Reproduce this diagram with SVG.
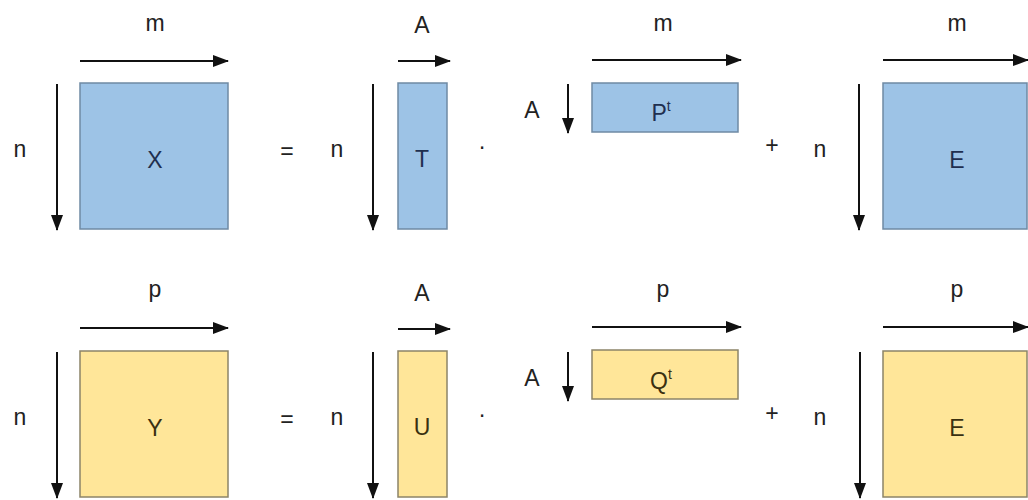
<svg xmlns="http://www.w3.org/2000/svg" width="1028" height="500" viewBox="0 0 1028 500">
<style>
.bl{fill:#9dc3e6;stroke:#6f8aa4;stroke-width:1.5}
.ye{fill:#ffe699;stroke:#8c8468;stroke-width:1.5}
.lab{font-family:"Liberation Sans",Arial,sans-serif;font-size:23px;fill:#222;text-anchor:middle}
.tb{font-family:"Liberation Sans",Arial,sans-serif;font-size:23px;fill:#1f2f4f;text-anchor:middle}
.ty{font-family:"Liberation Sans",Arial,sans-serif;font-size:23px;fill:#3a3010;text-anchor:middle}
.sup{font-size:14px}
.ar{stroke:#111;stroke-width:2;fill:none;marker-end:url(#ah)}
</style>
<defs>
<marker id="ah" markerUnits="userSpaceOnUse" markerWidth="16" markerHeight="12" refX="15" refY="6" orient="auto">
<path d="M0,0 L16,6 L0,12 Z" fill="#111"/>
</marker>
</defs>
<rect width="1028" height="500" fill="#fff"/>

<g id="connectors">
<line class="ar" x1="80" y1="61" x2="228" y2="61"/>
<line class="ar" x1="57" y1="84" x2="57" y2="230"/>
<line class="ar" x1="398" y1="61" x2="450" y2="61"/>
<line class="ar" x1="373" y1="84" x2="373" y2="230"/>
<line class="ar" x1="592" y1="60" x2="741" y2="60"/>
<line class="ar" x1="568" y1="84" x2="568" y2="133"/>
<line class="ar" x1="883" y1="60" x2="1028" y2="60"/>
<line class="ar" x1="859" y1="84" x2="859" y2="230"/>

<line class="ar" x1="80" y1="328" x2="228" y2="328"/>
<line class="ar" x1="57" y1="352" x2="57" y2="498"/>
<line class="ar" x1="398" y1="329" x2="450" y2="329"/>
<line class="ar" x1="373" y1="352" x2="373" y2="498"/>
<line class="ar" x1="592" y1="327" x2="741" y2="327"/>
<line class="ar" x1="568" y1="352" x2="568" y2="401"/>
<line class="ar" x1="883" y1="327" x2="1028" y2="327"/>
<line class="ar" x1="860" y1="352" x2="860" y2="498"/>
</g>

<g id="X">
<rect class="bl" x="80" y="83" width="148" height="146"/>
<text class="tb" x="155" y="168">X</text>
<text class="lab" x="155" y="31">m</text>
<text class="lab" x="20" y="157">n</text>
</g>
<text class="lab" x="287" y="159">=</text>
<g id="T">
<rect class="bl" x="398" y="83" width="49" height="146"/>
<text class="tb" x="422" y="167">T</text>
<text class="lab" x="422" y="33">A</text>
<text class="lab" x="337" y="157">n</text>
</g>
<text class="lab" x="482" y="154">·</text>
<g id="Pt">
<rect class="bl" x="592" y="83" width="146" height="49"/>
<text class="tb" x="661" y="121">P<tspan class="sup" dy="-10">t</tspan></text>
<text class="lab" x="663" y="31">m</text>
<text class="lab" x="532" y="118">A</text>
</g>
<text class="lab" x="772" y="153">+</text>
<g id="E1">
<rect class="bl" x="883" y="83" width="144" height="146"/>
<text class="tb" x="957" y="168">E</text>
<text class="lab" x="957" y="31">m</text>
<text class="lab" x="820" y="157">n</text>
</g>

<g id="Y">
<rect class="ye" x="80" y="351" width="148" height="146"/>
<text class="ty" x="155" y="436">Y</text>
<text class="lab" x="155" y="297">p</text>
<text class="lab" x="20" y="425">n</text>
</g>
<text class="lab" x="287" y="427">=</text>
<g id="U">
<rect class="ye" x="398" y="351" width="49" height="146"/>
<text class="ty" x="422" y="435">U</text>
<text class="lab" x="422" y="301">A</text>
<text class="lab" x="337" y="425">n</text>
</g>
<text class="lab" x="482" y="422">·</text>
<g id="Qt">
<rect class="ye" x="592" y="350" width="146" height="49"/>
<text class="ty" x="661" y="389">Q<tspan class="sup" dy="-10">t</tspan></text>
<text class="lab" x="663" y="297">p</text>
<text class="lab" x="532" y="386">A</text>
</g>
<text class="lab" x="772" y="421">+</text>
<g id="E2">
<rect class="ye" x="883" y="351" width="144" height="146"/>
<text class="ty" x="957" y="436">E</text>
<text class="lab" x="957" y="297">p</text>
<text class="lab" x="820" y="425">n</text>
</g>
</svg>
